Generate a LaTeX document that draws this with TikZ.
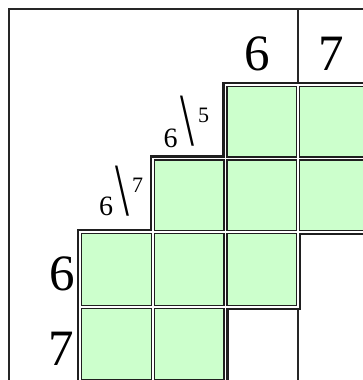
\documentclass[tikz,border=0pt]{standalone}
\usepackage{fontspec}
\usepackage{graphicx}
\setmainfont{Liberation Serif}
\begin{document}
\begin{tikzpicture}[x=1pt,y=-1pt,
  bigclue/.style={inner sep=0pt, anchor=base, font=\fontsize{51}{51}\selectfont},
  smallclue/.style={inner sep=0pt, anchor=base, font=\fontsize{28}{28}\selectfont},
  supclue/.style={inner sep=0pt, anchor=base, font=\fontsize{22}{22}\selectfont},
  slashclue/.style={inner sep=0pt, anchor=center, font=\fontsize{50}{50}\selectfont},
  thinline/.style={line width=1.5pt, black!85}]
\useasboundingbox (0,0) rectangle (363,380);
\clip (0,0) rectangle (363,380);
\fill[white] (0,0) rectangle (363,380);
% outer frame
\draw[line width=2pt, black!85] (9,420) -- (9,9) -- (420,9);
% thin clue lines
\draw[thinline] (298,9) -- (298,83);
\draw[thinline] (298,310) -- (298,420);
% cells
\def\cells{225.5/85/298/158.5, 298/85/371/158.5,
  153/158.5/225.5/232, 225.5/158.5/298/232, 298/158.5/371/232,
  80/232/153/307, 153/232/225.5/307, 225.5/232/298/307,
  80/307/153/381, 153/307/225.5/381}
\foreach \a/\b/\c/\d in \cells {
  \fill[black!88] (\a-3.2,\b-3.2) rectangle (\c+3.2,\d+3.2);
}
\foreach \a/\b/\c/\d in \cells {
  \draw[white, line width=1.3pt] (\a,\b) rectangle (\c,\d);
}
\foreach \a/\b/\c/\d in \cells {
  \fill[fill={rgb,255:red,204;green,255;blue,204}] (\a+2.4,\b+2.4) rectangle (\c-2.4,\d-2.4);
}
% clues
\node[bigclue] (t6) at (257.5,70) {6};
\node[bigclue] (t7) at (331.5,70) {7};
\node[bigclue] (l6) at (62,290) {6};
\node[bigclue] (l7) at (61.5,365) {7};
\node[smallclue] (a6) at (170.5,147) {6};
\node[slashclue] (as) at (187.5,121.5) {\scalebox{1}[1.5]{\textbackslash}};
\node[supclue] (a5) at (203.5,122) {5};
\node[smallclue] (b6) at (106,215) {6};
\node[slashclue] (bs) at (122.5,191) {\scalebox{1}[1.5]{\textbackslash}};
\node[supclue] (b7) at (137.5,192) {7};
\end{tikzpicture}
\end{document}
